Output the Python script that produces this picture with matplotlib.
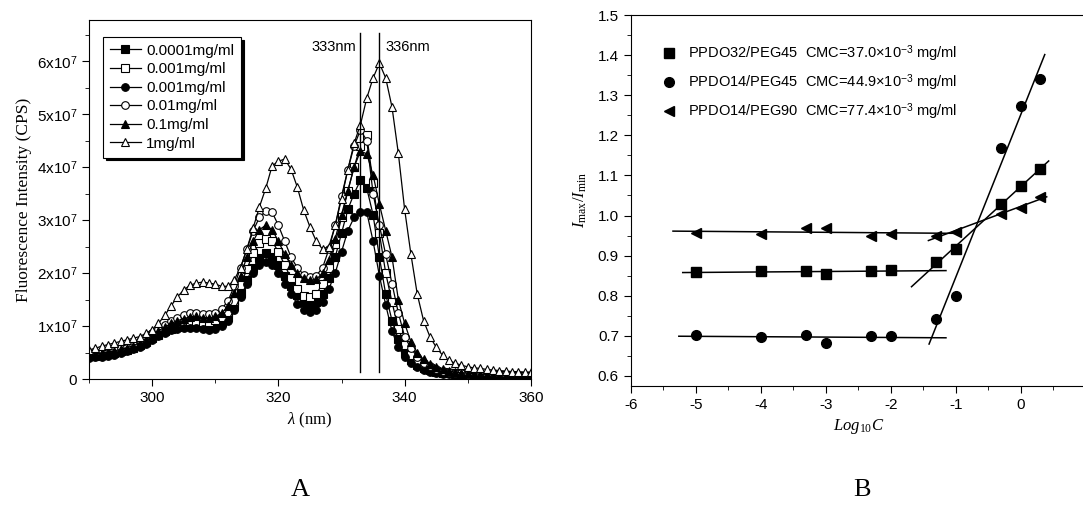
import numpy as np
import matplotlib
matplotlib.use("Agg")
import matplotlib.pyplot as plt
from matplotlib.ticker import MultipleLocator

SANS = "Liberation Sans"
SERIF = "Liberation Serif"

# PANEL A DATA (intensity in units of 1e7 CPS) ################################

wavelength = list(range(290, 361))

conc_labels = ["0.0001mg/ml", "0.001mg/ml", "0.001mg/ml",
               "0.01mg/ml", "0.1mg/ml", "1mg/ml"]

int_00001 = [0.43, 0.44, 0.45, 0.47, 0.49, 0.52, 0.55, 0.59, 0.64, 0.70,
             0.77, 0.84, 0.90, 0.95, 0.99, 1.02, 1.03, 1.02, 1.00, 0.99,
             1.02, 1.07, 1.17, 1.37, 1.62, 1.87, 2.10, 2.28, 2.37, 2.30,
             2.15, 1.95, 1.75, 1.58, 1.46, 1.42, 1.45, 1.60, 1.90, 2.30,
             2.75, 3.20, 3.50, 3.75, 3.60, 3.10, 2.30, 1.60, 1.10, 0.75,
             0.50, 0.36, 0.27, 0.21, 0.17, 0.14, 0.12, 0.11, 0.10, 0.09,
             0.08, 0.08, 0.07, 0.07, 0.06, 0.06, 0.06, 0.05, 0.05, 0.05, 0.05]

int_0001a = [0.45, 0.46, 0.47, 0.49, 0.51, 0.54, 0.57, 0.61, 0.66, 0.72,
             0.79, 0.86, 0.93, 0.99, 1.04, 1.08, 1.10, 1.10, 1.08, 1.08,
             1.12, 1.17, 1.27, 1.47, 1.77, 2.07, 2.37, 2.56, 2.65, 2.60,
             2.40, 2.15, 1.90, 1.70, 1.57, 1.54, 1.60, 1.80, 2.10, 2.55,
             3.05, 3.55, 4.00, 4.40, 4.60, 3.70, 2.75, 2.00, 1.45, 0.95,
             0.65, 0.45, 0.33, 0.25, 0.20, 0.16, 0.14, 0.12, 0.11, 0.10,
             0.09, 0.09, 0.08, 0.08, 0.07, 0.07, 0.07, 0.06, 0.06, 0.06, 0.06]

int_0001b = [0.40, 0.41, 0.42, 0.44, 0.46, 0.49, 0.52, 0.56, 0.61, 0.67,
             0.74, 0.81, 0.87, 0.92, 0.95, 0.97, 0.97, 0.96, 0.94, 0.93,
             0.95, 1.00, 1.10, 1.30, 1.55, 1.80, 2.00, 2.15, 2.20, 2.15,
             2.00, 1.80, 1.60, 1.42, 1.30, 1.26, 1.30, 1.45, 1.70, 2.00,
             2.40, 2.80, 3.05, 3.15, 3.15, 2.60, 1.95, 1.40, 0.90, 0.60,
             0.42, 0.30, 0.22, 0.17, 0.14, 0.12, 0.10, 0.09, 0.08, 0.07,
             0.07, 0.06, 0.06, 0.05, 0.05, 0.05, 0.05, 0.04, 0.04, 0.04, 0.04]

int_001 = [0.50, 0.51, 0.52, 0.54, 0.56, 0.59, 0.62, 0.66, 0.71, 0.78,
           0.86, 0.94, 1.02, 1.10, 1.16, 1.21, 1.24, 1.25, 1.23, 1.22,
           1.25, 1.32, 1.47, 1.75, 2.10, 2.45, 2.80, 3.05, 3.17, 3.15,
           2.90, 2.60, 2.30, 2.10, 1.97, 1.93, 1.95, 2.10, 2.45, 2.90,
           3.45, 3.95, 4.40, 4.70, 4.50, 3.50, 2.90, 2.35, 1.80, 1.25,
           0.80, 0.58, 0.42, 0.31, 0.24, 0.19, 0.16, 0.14, 0.12, 0.11,
           0.10, 0.09, 0.09, 0.08, 0.08, 0.07, 0.07, 0.07, 0.06, 0.06, 0.06]

int_01 = [0.47, 0.48, 0.49, 0.51, 0.53, 0.56, 0.59, 0.63, 0.68, 0.75,
          0.83, 0.91, 0.98, 1.05, 1.10, 1.14, 1.17, 1.18, 1.16, 1.15,
          1.18, 1.24, 1.37, 1.62, 1.95, 2.30, 2.60, 2.82, 2.90, 2.82,
          2.60, 2.35, 2.15, 2.00, 1.90, 1.86, 1.88, 2.00, 2.25, 2.65,
          3.10, 3.55, 4.00, 4.30, 4.25, 3.85, 3.30, 2.80, 2.30, 1.50,
          1.05, 0.70, 0.50, 0.37, 0.28, 0.22, 0.18, 0.15, 0.13, 0.12,
          0.11, 0.10, 0.09, 0.09, 0.08, 0.08, 0.08, 0.07, 0.07, 0.07, 0.07]

int_1 = [0.55, 0.58, 0.62, 0.65, 0.68, 0.71, 0.74, 0.77, 0.80, 0.86,
         0.93, 1.05, 1.20, 1.38, 1.55, 1.68, 1.77, 1.81, 1.83, 1.81,
         1.79, 1.75, 1.75, 1.87, 2.10, 2.45, 2.85, 3.25, 3.60, 4.02,
         4.11, 4.15, 3.96, 3.62, 3.19, 2.87, 2.60, 2.45, 2.50, 2.90,
         3.40, 3.95, 4.45, 4.80, 5.30, 5.68, 5.96, 5.68, 5.13, 4.26,
         3.20, 2.35, 1.60, 1.10, 0.80, 0.60, 0.45, 0.35, 0.30, 0.26,
         0.23, 0.21, 0.20, 0.18, 0.17, 0.16, 0.15, 0.14, 0.14, 0.13, 0.13]

peak_lines = [333, 336]

# PANEL B DATA ################################################################

log_c = [-5, -4, -3.3, -3, -2.3, -2, -1.3, -1, -0.3, 0, 0.3]

ratio_32_45 = [0.858, 0.861, 0.862, 0.855, 0.861, 0.864, 0.884, 0.917, 1.028, 1.073, 1.117]
ratio_14_45 = [0.702, 0.697, 0.701, 0.683, 0.700, 0.700, 0.743, 0.800, 1.168, 1.273, 1.340]
ratio_14_90 = [0.957, 0.953, 0.970, 0.970, 0.948, 0.953, 0.948, 0.960, 1.005, 1.018, 1.045]

polymer_labels = ["PPDO32/PEG45", "PPDO14/PEG45", "PPDO14/PEG90"]
cmc_values = ["37.0", "44.9", "77.4"]

# x ranges over which the two fitted lines of each series are drawn
flat_range = [(-5.2, -1.15), (-5.26, -1.15), (-5.35, -1.04)]
rise_range = [(-1.68, 0.43), (-1.41, 0.37), (-1.42, 0.40)]


def main():

    fig = plt.figure(figsize=(10.83, 5.14), dpi=100)

    # PANEL A ##################################################################

    ax = fig.add_axes([0.0822, 0.2626, 0.408, 0.698])

    series = [int_00001, int_0001a, int_0001b, int_001, int_01, int_1]
    markers = ["s", "s", "o", "o", "^", "^"]
    faces = ["black", "white", "black", "white", "black", "white"]

    for vals, lab, mk, fc in zip(series, conc_labels, markers, faces):
        ax.plot(wavelength, np.array(vals) * 1e7, color="black", lw=0.9,
                marker=mk, ms=5.5, mfc=fc, mec="black", mew=0.8, label=lab)

    for wl in peak_lines:
        ax.axvline(wl, ymin=0.02, ymax=0.965, color="black", lw=1.0)
    ax.text(332.3, 6.27e7, "333nm", family=SANS, fontsize=10.5, ha="right", va="center")
    ax.text(337.0, 6.27e7, "336nm", family=SANS, fontsize=10.5, ha="left", va="center")

    ax.set_xlim(290, 360)
    ax.set_ylim(0, 6.77e7)
    ax.xaxis.set_major_locator(MultipleLocator(20))
    ax.xaxis.set_minor_locator(MultipleLocator(10))
    ax.yaxis.set_minor_locator(MultipleLocator(0.5e7))
    ax.set_yticks(np.arange(0, 7) * 1e7)
    ax.set_yticklabels(["0"] + [r"%dx10$^{\mathsf{7}}$" % i for i in range(1, 7)])
    ax.tick_params(which="both", direction="out", labelsize=11)
    ax.tick_params(which="major", length=5)
    ax.tick_params(which="minor", length=3)
    for t in ax.get_xticklabels() + ax.get_yticklabels():
        t.set_family(SANS)

    ax.set_ylabel("Fluorescence Intensity (CPS)", family=SERIF, fontsize=12.5, labelpad=3)
    ax.set_xlabel(r"$\lambda$ (nm)", family=SERIF, fontsize=12, labelpad=4)

    leg = ax.legend(loc="upper left", bbox_to_anchor=(0.015, 0.975), frameon=True,
                    fancybox=False, shadow={"color": "black", "alpha": 1.0},
                    prop={"family": SANS, "size": 11}, handlelength=2.0,
                    labelspacing=0.3, borderpad=0.45, handletextpad=0.35)
    leg.get_frame().set_edgecolor("black")
    leg.get_frame().set_linewidth(0.8)

    # PANEL B ##################################################################

    bx = fig.add_axes([0.5824, 0.2496, 0.4201, 0.7212])

    bseries = [ratio_32_45, ratio_14_45, ratio_14_90]
    bmarkers = ["s", "o", "<"]
    x = np.array(log_c)

    for vals, poly, cmc, mk, fr, rr in zip(bseries, polymer_labels, cmc_values,
                                           bmarkers, flat_range, rise_range):
        y = np.array(vals)
        lab = r"%s  CMC=%s×10$^{\mathsf{-3}}$ mg/ml" % (poly, cmc)
        bx.plot(x, y, ls="none", marker=mk, ms=7, color="black", label=lab)

        # flat part (below the CMC) and steep part (above it)
        flat = x <= -2
        rise = x >= -1.3
        p1 = np.polyfit(x[flat], y[flat], 1)
        p2 = np.polyfit(x[rise], y[rise], 1)
        xf = np.array(fr)
        xr = np.array(rr)
        bx.plot(xf, np.polyval(p1, xf), color="black", lw=1.1)
        bx.plot(xr, np.polyval(p2, xr), color="black", lw=1.1)

    bx.set_xlim(-6, 1)
    bx.set_ylim(0.5757, 1.5)
    bx.xaxis.set_major_locator(MultipleLocator(1))
    bx.xaxis.set_minor_locator(MultipleLocator(0.5))
    bx.yaxis.set_major_locator(MultipleLocator(0.1))
    bx.yaxis.set_minor_locator(MultipleLocator(0.05))
    bx.tick_params(which="both", direction="out", labelsize=11)
    bx.tick_params(which="major", length=5)
    bx.tick_params(which="minor", length=3)
    for t in bx.get_xticklabels() + bx.get_yticklabels():
        t.set_family(SANS)

    bx.set_ylabel(r"$I_{\mathregular{max}}/I_{\mathregular{min}}$", family=SERIF,
                  fontsize=12, labelpad=6)
    bx.set_xlabel(r"$Log_{\mathregular{10}}C$", family=SERIF, fontsize=12, labelpad=4)

    bx.legend(loc="upper left", bbox_to_anchor=(0.04, 0.96), frameon=False,
              prop={"family": SANS, "size": 10.5}, handlelength=1.0,
              labelspacing=0.55, handletextpad=0.8)

    # PANEL LETTERS ############################################################

    fig.text(300 / 1083, 1 - 490 / 514, "A", family=SERIF, fontsize=19,
             ha="center", va="center")
    fig.text(862 / 1083, 1 - 490 / 514, "B", family=SERIF, fontsize=19,
             ha="center", va="center")

    fig.savefig("out.png", dpi=100)


if __name__ == "__main__":
    plt.rcParams["mathtext.fontset"] = "custom"
    plt.rcParams["mathtext.rm"] = SERIF
    plt.rcParams["mathtext.it"] = SERIF + ":italic"
    plt.rcParams["mathtext.sf"] = SANS
    plt.rcParams["axes.unicode_minus"] = False
    main()
